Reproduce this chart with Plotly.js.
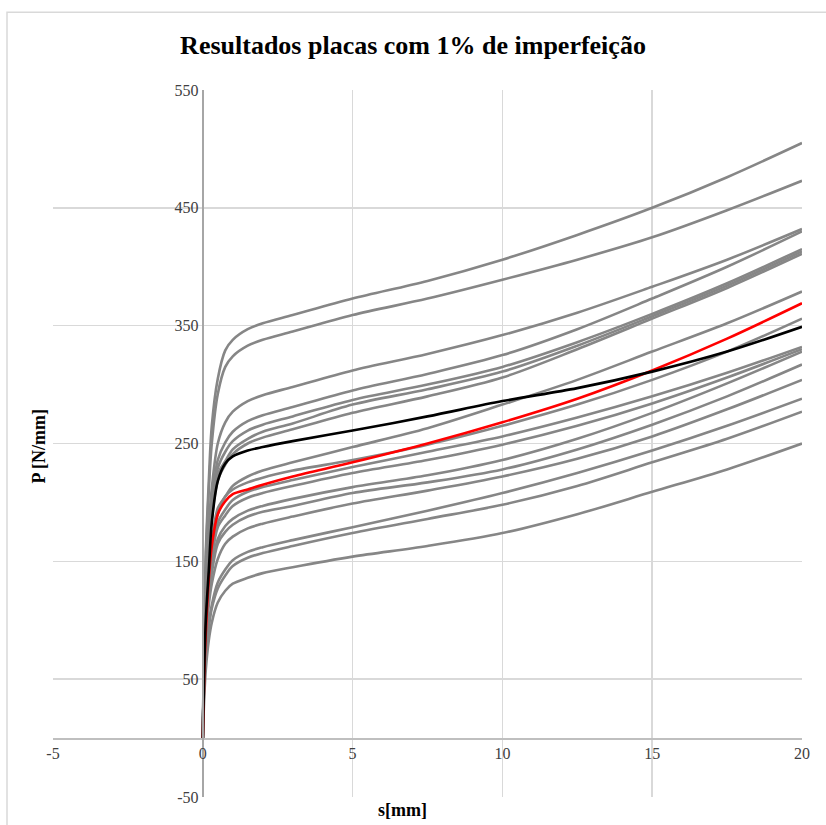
<!DOCTYPE html>
<html>
<head>
<meta charset="utf-8">
<script src="https://cdn.plot.ly/plotly-3.0.1.min.js"></script>
<style>
html,body{margin:0;padding:0;background:#fff;}
#chart{width:826px;height:825px;}
</style>
</head>
<body>
<div id="chart"></div>
<script>
const chartTitle = "Resultados placas com 1% de imperfeição";
const xTitle = "s[mm]";
const yTitle = "P [N/mm]";
const xTicks = [-5, 0, 5, 10, 15, 20];
const yTicks = [-50, 50, 150, 250, 350, 450, 550];

const s = [0, 0.05, 0.1, 0.2, 0.3, 0.5, 0.75, 1, 1.5, 2, 3, 5, 7.5, 10, 12.5, 15, 17.5, 20];

const grayA = [0,106,158,218,265,305,329,338,347,352,359,373,388,406,427,450,476,505];
const grayB = [0,101,152,210,250,292,315,324,333,338,345,359,373,389,406,425,448,473];
const grayC = [0,87,131,180,212,250,268,277,286,291,298,312,326,342,361,383,406,432];
const grayD = [0,82,123,170,200,236,251,260,269,274,281,295,309,325,347,373,400,430];
const grayE = [0,80,120,165,194,229,243,252,261,266,273,287,300,315,336,360,386,415];
const grayF = [0,78,117,161,190,224,235,245,254,260,267,283,296,311,333,358,384,413];
const grayG = [0,77,115,158,186,219,232,241,250,255,262,276,290,306,330,356,382,411];
const grayH = [0,68,102,141,166,195,205,214,222,227,234,247,263,283,304,328,352,379];
const grayI = [0,66,99,137,161,190,205,211,217,221,227,236,249,265,283,304,328,356];
const grayJ = [0,64,96,132,155,183,194,202,209,213,219,230,243,256,272,290,310,332];
const grayK = [0,62,94,129,152,179,189,197,204,208,214,225,236,249,265,284,306,330];
const grayL = [0,59,89,122,144,169,180,186,193,197,203,213,223,236,254,276,301,328];
const grayM = [0,58,86,119,140,165,175,181,188,192,197,208,217,228,245,266,290,317];
const grayN = [0,55,82,113,131,152,165,171,178,182,188,199,210,222,237,256,279,304];
const grayO = [0,49,73,97,113,132,143,151,158,162,168,179,193,208,225,244,265,288];
const grayP = [0,47,71,94,110,127,138,146,153,157,163,174,186,198,214,234,254,277];
const grayQ = [0,35,58,83,98,115,125,131,136,140,145,154,163,174,190,209,228,250];
const redCurve = [0,55,90,135,163,190,201,207,211,215,222,234,250,268,288,312,339,369];
const blackCurve = [0,60,100,142,183,218,233,239,244,247,252,261,273,286,297,311,328,349];

const grays = [grayA, grayB, grayC, grayD, grayE, grayF, grayG, grayH, grayI,
               grayJ, grayK, grayL, grayM, grayN, grayO, grayP, grayQ];

const traces = [];
grays.forEach(function (g) {
  traces.push({x: s, y: g, type: 'scatter', mode: 'lines',
    line: {color: '#868686', width: 2.6, shape: 'spline', smoothing: 0.9},
    hoverinfo: 'skip', showlegend: false});
});
traces.push({x: s, y: redCurve, type: 'scatter', mode: 'lines',
  line: {color: '#ff0000', width: 2.6, shape: 'spline', smoothing: 0.9}, showlegend: false});
traces.push({x: s, y: blackCurve, type: 'scatter', mode: 'lines',
  line: {color: '#000000', width: 2.6, shape: 'spline', smoothing: 0.9}, showlegend: false});

const serif = 'Liberation Serif, Times New Roman, serif';

const layout = {
  width: 826, height: 825,
  margin: {l: 53, r: 24, t: 90, b: 28},
  paper_bgcolor: '#ffffff', plot_bgcolor: '#ffffff',
  showlegend: false,
  font: {family: serif},
  title: {text: '<b>' + chartTitle + '</b>', x: 0.5, xref: 'container', y: 0.945, yref: 'container',
    yanchor: 'middle', font: {family: serif, size: 26, color: '#000000'}},
  xaxis: {
    range: [-5, 20], tickmode: 'array', tickvals: xTicks, ticktext: xTicks.map(String),
    anchor: 'free', position: 50 / 600,
    showgrid: true, gridcolor: '#d9d9d9', gridwidth: 1.6,
    zeroline: false, showline: true, linecolor: '#bfbfbf', linewidth: 1.5,
    ticks: '', tickfont: {family: serif, size: 16, color: '#404040'}
  },
  yaxis: {
    range: [-50, 550], tickmode: 'array', tickvals: yTicks, ticktext: yTicks.map(String),
    anchor: 'free', position: 5 / 25,
    showgrid: true, gridcolor: '#d9d9d9', gridwidth: 1.6,
    zeroline: false, showline: true, linecolor: '#a6a6a6', linewidth: 2,
    ticks: '', tickfont: {family: serif, size: 16, color: '#404040'}
  },
  annotations: [
    {text: '<b>' + yTitle + '</b>', xref: 'paper', yref: 'paper', x: -0.018, y: 0.495,
      textangle: -90, showarrow: false, xanchor: 'center', yanchor: 'middle',
      font: {family: serif, size: 18, color: '#000000'}},
    {text: '<b>' + xTitle + '</b>', xref: 'paper', yref: 'paper', x: 0.467, y: -0.018,
      showarrow: false, xanchor: 'center', yanchor: 'middle',
      font: {family: serif, size: 18, color: '#000000'}}
  ],
  shapes: [
    {type: 'rect', xref: 'paper', yref: 'paper', x0: -0.0614, x1: 1.2, y0: -0.2, y1: 1.110,
      line: {color: '#d9d9d9', width: 1.5}, fillcolor: 'rgba(0,0,0,0)', layer: 'below'}
  ]
};

Plotly.newPlot('chart', traces, layout, {displayModeBar: false, staticPlot: true});
</script>
</body>
</html>
